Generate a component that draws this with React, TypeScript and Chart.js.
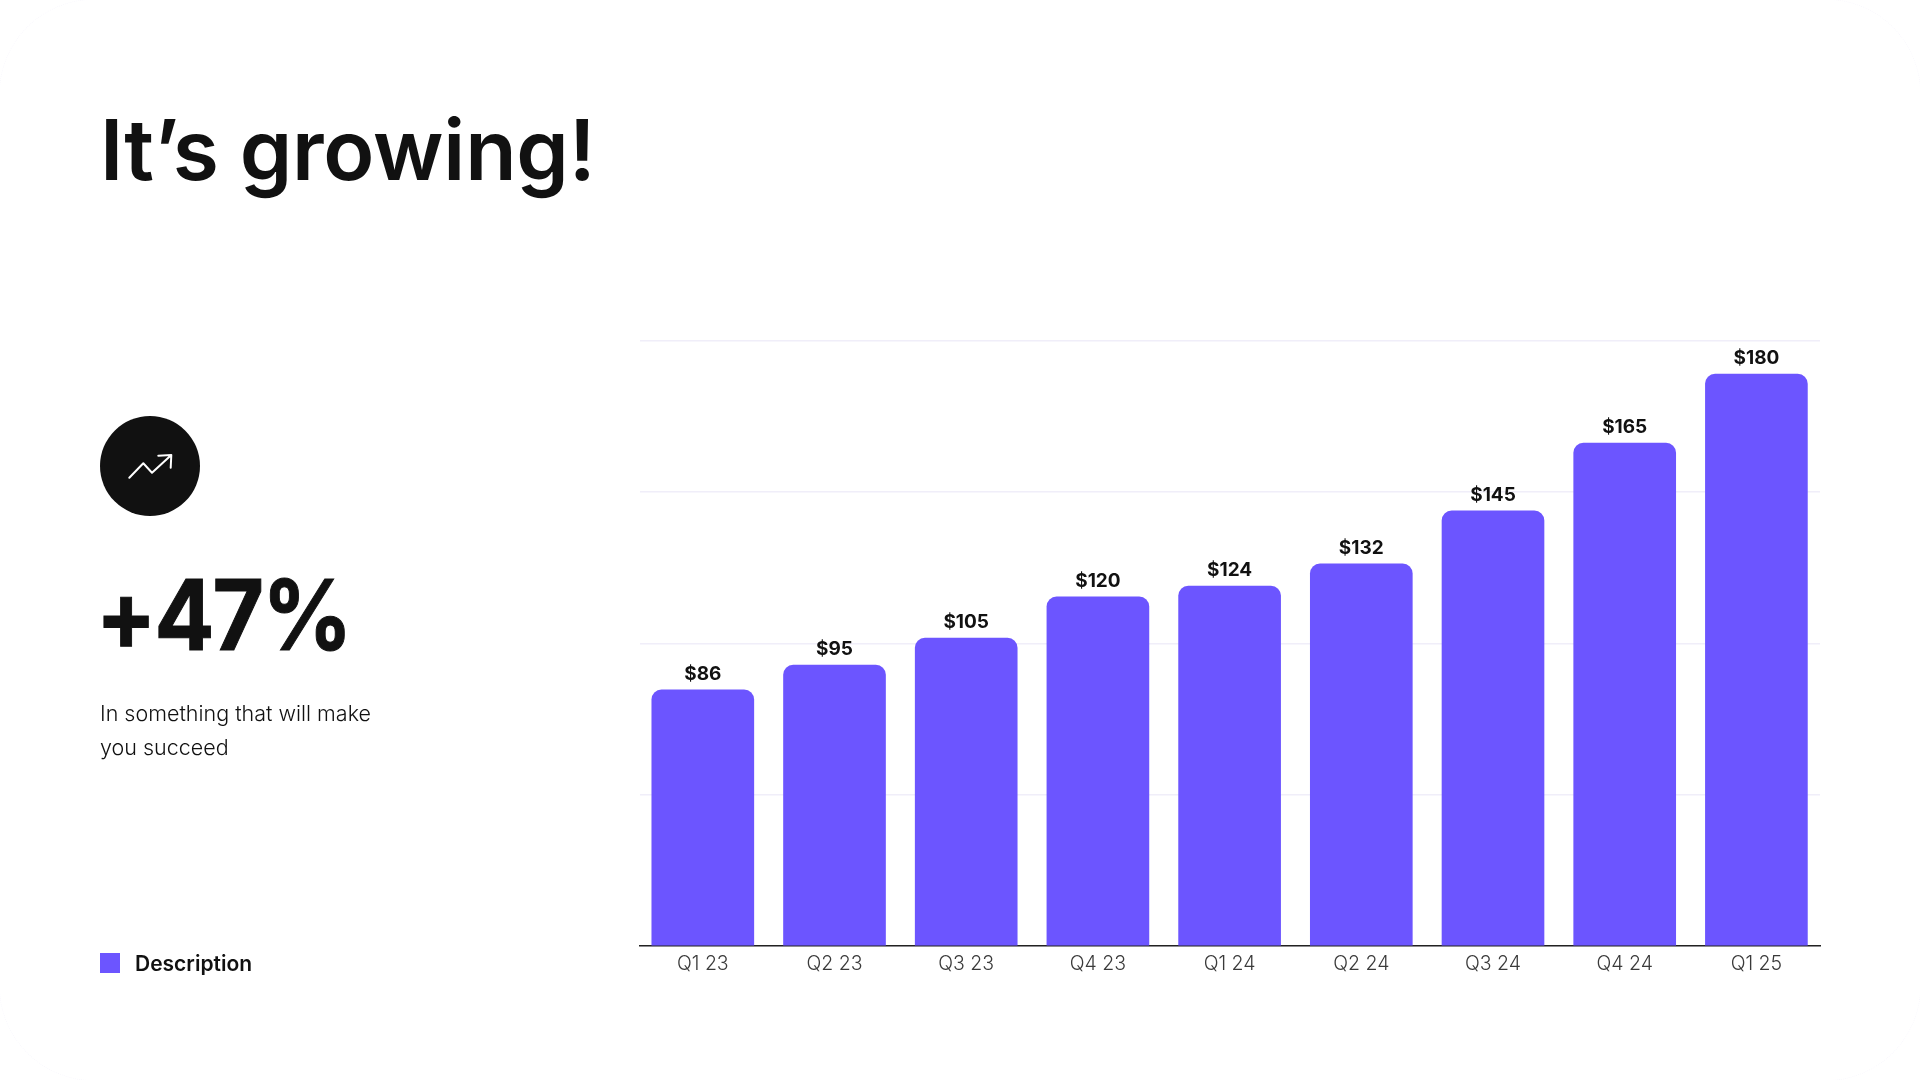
import React, { useEffect, useRef } from "react";
import { Chart, registerables } from "chart.js";

Chart.register(...registerables);

const categories = ["Q1 23", "Q2 23", "Q3 23", "Q4 23", "Q1 24", "Q2 24", "Q3 24", "Q4 24", "Q1 25"];
const barLabels = ["$86", "$95", "$105", "$120", "$124", "$132", "$145", "$165", "$180"];
// Bar heights, on the 0-200 grid (the printed labels are not to scale).
const barHeights = [84.6, 92.8, 101.7, 115.3, 118.9, 126.2, 143.7, 166.1, 188.9];
const yMax = 200;
const yStep = 50;

const INK = "#111111";
const PURPLE = "#6C55FF";
const FONT = "Inter, 'Noto Sans', sans-serif";

const valueLabels = {
  id: "valueLabels",
  afterDatasetsDraw(chart: any) {
    const { ctx } = chart;
    const bars = chart.getDatasetMeta(0).data;
    ctx.save();
    ctx.font = `700 19px ${FONT}`;
    ctx.fillStyle = INK;
    ctx.textAlign = "center";
    ctx.textBaseline = "alphabetic";
    bars.forEach((bar: any, i: number) => {
      ctx.fillText(barLabels[i], bar.x, bar.y - 10);
    });
    ctx.restore();
  },
};

function BarChart() {
  const ref = useRef<HTMLCanvasElement>(null);
  useEffect(() => {
    const chart = new Chart(ref.current as HTMLCanvasElement, {
      type: "bar",
      data: {
        labels: categories,
        datasets: [
          {
            label: "Description",
            data: barHeights.map((y, x) => ({ x, y })),
            backgroundColor: PURPLE,
            borderRadius: { topLeft: 10, topRight: 10, bottomLeft: 0, bottomRight: 0 },
            borderSkipped: "bottom",
            barThickness: 102,
          },
        ],
      },
      options: {
        animation: false,
        responsive: false,
        devicePixelRatio: 1,
        layout: { padding: { left: 640, right: 100, top: 340.5, bottom: 0 } },
        plugins: { legend: { display: false }, tooltip: { enabled: false } },
        scales: {
          x: {
            type: "linear",
            offset: false,
            min: -0.4769,
            max: 8.4829,
            grid: { display: false, drawTicks: false },
            border: { display: true, color: "#222222", width: 1.5 },
            afterFit(scale: any) {
              scale.height = 134;
            },
            ticks: {
              stepSize: 1,
              includeBounds: false,
              autoSkip: false,
              maxRotation: 0,
              padding: 6,
              color: "#3a3a3a",
              font: { family: FONT, size: 19.5, weight: 300 },
              callback: (v: any) => categories[v] ?? "",
            },
          },
          y: {
            min: 0,
            max: yMax,
            grid: { color: "#f0eef9", lineWidth: 1.5, drawTicks: false },
            border: { display: false },
            ticks: { display: false, stepSize: yStep },
          },
        },
      },
      plugins: [valueLabels],
    } as any);
    return () => chart.destroy();
  }, []);
  return <canvas ref={ref} width={1920} height={1080} style={{ position: "absolute", left: 0, top: 0, width: 1920, height: 1080 }} />;
}

const text = (left: number, top: number, size: number, weight: number, extra: React.CSSProperties = {}): React.CSSProperties => ({
  position: "absolute",
  left,
  top,
  fontFamily: FONT,
  fontSize: size,
  fontWeight: weight,
  color: INK,
  lineHeight: 1,
  whiteSpace: "nowrap",
  ...extra,
});

export default function App() {
  useEffect(() => {
    document.body.style.margin = "0";
    document.body.style.background = "#ffffff";
  }, []);
  return (
    <div style={{ position: "absolute", left: 0, top: 0, width: 1920, height: 1080, overflow: "hidden", background: "#fff" }}>
      <div style={{ position: "absolute", left: -1, top: -1, width: 1922, height: 1082, boxSizing: "border-box", border: "1px dotted #f9f8fd", borderRadius: 95 }} />
      <BarChart />
      <div style={text(100, 108, 84, 600, { letterSpacing: -0.2 })}>It’s growing!</div>
      <div style={{ position: "absolute", left: 100, top: 416, width: 100, height: 100, borderRadius: "50%", background: INK }} />
      <svg style={{ position: "absolute", left: 0, top: 0 }} width={300} height={600}>
        <path d="M129.3 477.7 L143.3 463.3 L152 472.7 L171.3 455 M158.3 455.7 L171.3 455 L170.7 467.7" fill="none" stroke="#fff" strokeWidth={2} strokeLinecap="round" strokeLinejoin="round" />
      </svg>
      <div style={text(95.5, 566, 98, 700, { letterSpacing: -2, transform: "scaleX(0.905)", transformOrigin: "left center", WebkitTextStroke: "1px #111111" })}>+47%</div>
      <div style={text(100, 696, 21.5, 300, { lineHeight: "34px" })}>
        In something that will make
        <br />
        you succeed
      </div>
      <div style={{ position: "absolute", left: 100, top: 953, width: 20, height: 20, background: PURPLE }} />
      <div style={text(135, 953, 21, 600)}>Description</div>
    </div>
  );
}
